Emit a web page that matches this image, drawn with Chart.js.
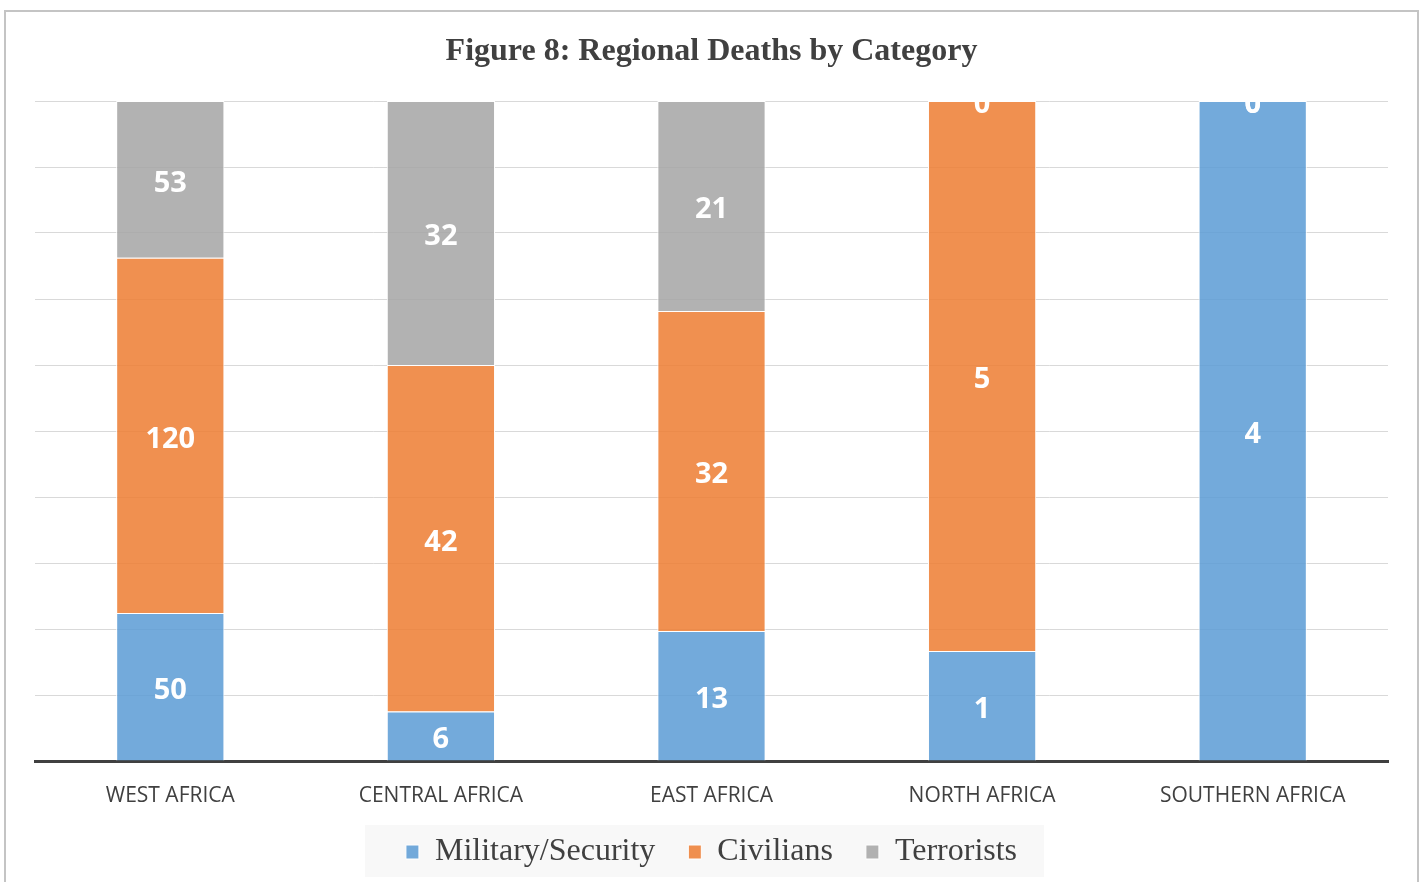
<!DOCTYPE html>
<html>
<head>
<meta charset="utf-8">
<script src="https://cdn.jsdelivr.net/npm/chart.js@4.4.1/dist/chart.umd.min.js"></script>
<style>
  html, body { margin: 0; padding: 0; background: #ffffff; }
  #wrap { position: relative; width: 1421px; height: 882px; }
</style>
</head>
<body>
<div id="wrap"><canvas id="c" width="1421" height="882"></canvas></div>
<script>
const categories = ['WEST AFRICA', 'CENTRAL AFRICA', 'EAST AFRICA', 'NORTH AFRICA', 'SOUTHERN AFRICA'];
const militarySecurity = [50, 6, 13, 1, 4];
const civilians = [120, 42, 32, 5, 0];
const terrorists = [53, 32, 21, 0, 0];
const seriesNames = ['Military/Security', 'Civilians', 'Terrorists'];
const yTicks = [0, 10, 20, 30, 40, 50, 60, 70, 80, 90, 100];

const rawSeries = [militarySecurity, civilians, terrorists];
const totals = categories.map((_, i) => rawSeries.reduce((s, arr) => s + arr[i], 0));
const shares = rawSeries.map(arr => arr.map((v, i) => totals[i] ? v / totals[i] * 100 : 0));

const colors = ['rgba(91,155,213,0.85)', 'rgba(237,125,49,0.85)', 'rgba(165,165,165,0.85)'];

const frameAndLegendBox = {
  id: 'frameAndLegendBox',
  beforeDraw(chart) {
    const ctx = chart.ctx;
    ctx.save();
    ctx.fillStyle = '#ffffff';
    ctx.fillRect(0, 0, chart.width, chart.height);
    ctx.strokeStyle = '#c4c4c4';
    ctx.lineWidth = 2;
    ctx.strokeRect(5, 11, 1413, 900);
    const lg = chart.legend;
    if (lg && lg.legendHitBoxes && lg.legendHitBoxes.length) {
      const hb = lg.legendHitBoxes;
      const first = hb[0], last = hb[hb.length - 1];
      const cy = first.top + first.height / 2;
      const left = first.left - 41;
      const right = last.left + last.width + 27;
      ctx.fillStyle = '#f8f8f8';
      ctx.fillRect(left, cy - 27, right - left, 52);
    }
    ctx.restore();
  }
};

const segmentLabels = {
  id: 'segmentLabels',
  afterDatasetsDraw(chart) {
    const ctx = chart.ctx;
    const area = chart.chartArea;
    ctx.save();
    ctx.beginPath();
    ctx.rect(area.left, area.top, area.right - area.left, area.bottom - area.top);
    ctx.clip();
    ctx.fillStyle = '#ffffff';
    ctx.font = 'bold 29px "Open Sans", sans-serif';
    ctx.textAlign = 'center';
    ctx.textBaseline = 'middle';
    chart.data.datasets.forEach((ds, di) => {
      const meta = chart.getDatasetMeta(di);
      meta.data.forEach((el, i) => {
        const raw = rawSeries[di][i];
        const cy = (el.y + el.base) / 2;
        ctx.fillText(String(raw), el.x, cy + 4);
      });
    });
    ctx.restore();
  }
};

new Chart(document.getElementById('c'), {
  type: 'bar',
  data: {
    labels: categories,
    datasets: seriesNames.map((name, k) => ({
      label: name,
      data: shares[k],
      backgroundColor: colors[k],
      borderColor: '#ffffff',
      borderWidth: 1,
      categoryPercentage: 1.0,
      barPercentage: 0.4
    }))
  },
  options: {
    responsive: false,
    animation: false,
    layout: { padding: { left: 35, right: 33, top: 0, bottom: 4 } },
    plugins: {
      title: {
        display: true,
        text: 'Figure 8: Regional Deaths by Category',
        color: '#404040',
        font: { family: '"Liberation Serif", "Times New Roman", serif', size: 32, weight: 'bold' },
        padding: { top: 33, bottom: 29.6 }
      },
      legend: {
        position: 'bottom',
        labels: {
          color: '#404040',
          font: { family: '"Liberation Serif", "Times New Roman", serif', size: 32 },
          boxWidth: 13,
          boxHeight: 14,
          padding: 33
        }
      },
      tooltip: { enabled: false }
    },
    scales: {
      x: {
        stacked: true,
        z: 1,
        grid: { display: false, drawTicks: false },
        border: { display: true, color: '#404040', width: 3 },
        ticks: { color: '#404040', font: { family: '"Open Sans", sans-serif', size: 21 }, padding: 22 },
        afterFit(scale) { scale.height = 42; }
      },
      y: {
        stacked: true,
        min: 0,
        max: 100,
        afterBuildTicks(scale) { scale.ticks = yTicks.map(v => ({ value: v })); },
        ticks: { display: false },
        grid: { color: '#d9d9d9', lineWidth: 1, drawTicks: false },
        border: { display: false }
      }
    }
  },
  plugins: [frameAndLegendBox, segmentLabels]
});
</script>
</body>
</html>
